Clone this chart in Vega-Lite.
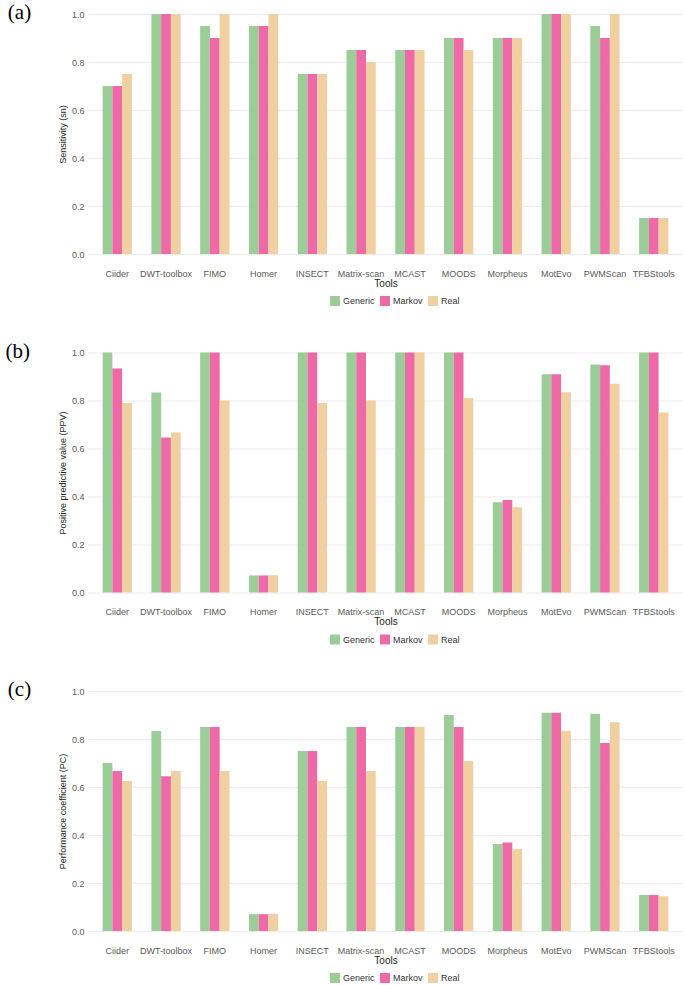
{
  "$schema": "https://vega.github.io/schema/vega-lite/v6.json",
  "description": "Sensitivity, PPV and performance coefficient of motif scanning tools",
  "padding": {"left": 5, "top": 2, "right": 0, "bottom": 0},
  "spacing": 34.5,
  "data": {
    "values": [
      {"m": "sn", "tool": "Ciider", "type": "Generic", "v": 0.70},
      {"m": "sn", "tool": "Ciider", "type": "Markov", "v": 0.70},
      {"m": "sn", "tool": "Ciider", "type": "Real", "v": 0.75},
      {"m": "sn", "tool": "DWT-toolbox", "type": "Generic", "v": 1.00},
      {"m": "sn", "tool": "DWT-toolbox", "type": "Markov", "v": 1.00},
      {"m": "sn", "tool": "DWT-toolbox", "type": "Real", "v": 1.00},
      {"m": "sn", "tool": "FIMO", "type": "Generic", "v": 0.95},
      {"m": "sn", "tool": "FIMO", "type": "Markov", "v": 0.90},
      {"m": "sn", "tool": "FIMO", "type": "Real", "v": 1.00},
      {"m": "sn", "tool": "Homer", "type": "Generic", "v": 0.95},
      {"m": "sn", "tool": "Homer", "type": "Markov", "v": 0.95},
      {"m": "sn", "tool": "Homer", "type": "Real", "v": 1.00},
      {"m": "sn", "tool": "INSECT", "type": "Generic", "v": 0.75},
      {"m": "sn", "tool": "INSECT", "type": "Markov", "v": 0.75},
      {"m": "sn", "tool": "INSECT", "type": "Real", "v": 0.75},
      {"m": "sn", "tool": "Matrix-scan", "type": "Generic", "v": 0.85},
      {"m": "sn", "tool": "Matrix-scan", "type": "Markov", "v": 0.85},
      {"m": "sn", "tool": "Matrix-scan", "type": "Real", "v": 0.80},
      {"m": "sn", "tool": "MCAST", "type": "Generic", "v": 0.85},
      {"m": "sn", "tool": "MCAST", "type": "Markov", "v": 0.85},
      {"m": "sn", "tool": "MCAST", "type": "Real", "v": 0.85},
      {"m": "sn", "tool": "MOODS", "type": "Generic", "v": 0.90},
      {"m": "sn", "tool": "MOODS", "type": "Markov", "v": 0.90},
      {"m": "sn", "tool": "MOODS", "type": "Real", "v": 0.85},
      {"m": "sn", "tool": "Morpheus", "type": "Generic", "v": 0.90},
      {"m": "sn", "tool": "Morpheus", "type": "Markov", "v": 0.90},
      {"m": "sn", "tool": "Morpheus", "type": "Real", "v": 0.90},
      {"m": "sn", "tool": "MotEvo", "type": "Generic", "v": 1.00},
      {"m": "sn", "tool": "MotEvo", "type": "Markov", "v": 1.00},
      {"m": "sn", "tool": "MotEvo", "type": "Real", "v": 1.00},
      {"m": "sn", "tool": "PWMScan", "type": "Generic", "v": 0.95},
      {"m": "sn", "tool": "PWMScan", "type": "Markov", "v": 0.90},
      {"m": "sn", "tool": "PWMScan", "type": "Real", "v": 1.00},
      {"m": "sn", "tool": "TFBStools", "type": "Generic", "v": 0.15},
      {"m": "sn", "tool": "TFBStools", "type": "Markov", "v": 0.15},
      {"m": "sn", "tool": "TFBStools", "type": "Real", "v": 0.15},

      {"m": "ppv", "tool": "Ciider", "type": "Generic", "v": 1.00},
      {"m": "ppv", "tool": "Ciider", "type": "Markov", "v": 0.933},
      {"m": "ppv", "tool": "Ciider", "type": "Real", "v": 0.79},
      {"m": "ppv", "tool": "DWT-toolbox", "type": "Generic", "v": 0.833},
      {"m": "ppv", "tool": "DWT-toolbox", "type": "Markov", "v": 0.646},
      {"m": "ppv", "tool": "DWT-toolbox", "type": "Real", "v": 0.667},
      {"m": "ppv", "tool": "FIMO", "type": "Generic", "v": 1.00},
      {"m": "ppv", "tool": "FIMO", "type": "Markov", "v": 1.00},
      {"m": "ppv", "tool": "FIMO", "type": "Real", "v": 0.80},
      {"m": "ppv", "tool": "Homer", "type": "Generic", "v": 0.071},
      {"m": "ppv", "tool": "Homer", "type": "Markov", "v": 0.071},
      {"m": "ppv", "tool": "Homer", "type": "Real", "v": 0.072},
      {"m": "ppv", "tool": "INSECT", "type": "Generic", "v": 1.00},
      {"m": "ppv", "tool": "INSECT", "type": "Markov", "v": 1.00},
      {"m": "ppv", "tool": "INSECT", "type": "Real", "v": 0.79},
      {"m": "ppv", "tool": "Matrix-scan", "type": "Generic", "v": 1.00},
      {"m": "ppv", "tool": "Matrix-scan", "type": "Markov", "v": 1.00},
      {"m": "ppv", "tool": "Matrix-scan", "type": "Real", "v": 0.80},
      {"m": "ppv", "tool": "MCAST", "type": "Generic", "v": 1.00},
      {"m": "ppv", "tool": "MCAST", "type": "Markov", "v": 1.00},
      {"m": "ppv", "tool": "MCAST", "type": "Real", "v": 1.00},
      {"m": "ppv", "tool": "MOODS", "type": "Generic", "v": 1.00},
      {"m": "ppv", "tool": "MOODS", "type": "Markov", "v": 1.00},
      {"m": "ppv", "tool": "MOODS", "type": "Real", "v": 0.81},
      {"m": "ppv", "tool": "Morpheus", "type": "Generic", "v": 0.376},
      {"m": "ppv", "tool": "Morpheus", "type": "Markov", "v": 0.385},
      {"m": "ppv", "tool": "Morpheus", "type": "Real", "v": 0.355},
      {"m": "ppv", "tool": "MotEvo", "type": "Generic", "v": 0.909},
      {"m": "ppv", "tool": "MotEvo", "type": "Markov", "v": 0.909},
      {"m": "ppv", "tool": "MotEvo", "type": "Real", "v": 0.834},
      {"m": "ppv", "tool": "PWMScan", "type": "Generic", "v": 0.950},
      {"m": "ppv", "tool": "PWMScan", "type": "Markov", "v": 0.947},
      {"m": "ppv", "tool": "PWMScan", "type": "Real", "v": 0.870},
      {"m": "ppv", "tool": "TFBStools", "type": "Generic", "v": 1.00},
      {"m": "ppv", "tool": "TFBStools", "type": "Markov", "v": 1.00},
      {"m": "ppv", "tool": "TFBStools", "type": "Real", "v": 0.75},

      {"m": "pc", "tool": "Ciider", "type": "Generic", "v": 0.70},
      {"m": "pc", "tool": "Ciider", "type": "Markov", "v": 0.667},
      {"m": "pc", "tool": "Ciider", "type": "Real", "v": 0.625},
      {"m": "pc", "tool": "DWT-toolbox", "type": "Generic", "v": 0.833},
      {"m": "pc", "tool": "DWT-toolbox", "type": "Markov", "v": 0.645},
      {"m": "pc", "tool": "DWT-toolbox", "type": "Real", "v": 0.667},
      {"m": "pc", "tool": "FIMO", "type": "Generic", "v": 0.85},
      {"m": "pc", "tool": "FIMO", "type": "Markov", "v": 0.85},
      {"m": "pc", "tool": "FIMO", "type": "Real", "v": 0.667},
      {"m": "pc", "tool": "Homer", "type": "Generic", "v": 0.070},
      {"m": "pc", "tool": "Homer", "type": "Markov", "v": 0.070},
      {"m": "pc", "tool": "Homer", "type": "Real", "v": 0.071},
      {"m": "pc", "tool": "INSECT", "type": "Generic", "v": 0.75},
      {"m": "pc", "tool": "INSECT", "type": "Markov", "v": 0.75},
      {"m": "pc", "tool": "INSECT", "type": "Real", "v": 0.625},
      {"m": "pc", "tool": "Matrix-scan", "type": "Generic", "v": 0.85},
      {"m": "pc", "tool": "Matrix-scan", "type": "Markov", "v": 0.85},
      {"m": "pc", "tool": "Matrix-scan", "type": "Real", "v": 0.667},
      {"m": "pc", "tool": "MCAST", "type": "Generic", "v": 0.85},
      {"m": "pc", "tool": "MCAST", "type": "Markov", "v": 0.85},
      {"m": "pc", "tool": "MCAST", "type": "Real", "v": 0.85},
      {"m": "pc", "tool": "MOODS", "type": "Generic", "v": 0.90},
      {"m": "pc", "tool": "MOODS", "type": "Markov", "v": 0.85},
      {"m": "pc", "tool": "MOODS", "type": "Real", "v": 0.708},
      {"m": "pc", "tool": "Morpheus", "type": "Generic", "v": 0.362},
      {"m": "pc", "tool": "Morpheus", "type": "Markov", "v": 0.369},
      {"m": "pc", "tool": "Morpheus", "type": "Real", "v": 0.341},
      {"m": "pc", "tool": "MotEvo", "type": "Generic", "v": 0.909},
      {"m": "pc", "tool": "MotEvo", "type": "Markov", "v": 0.909},
      {"m": "pc", "tool": "MotEvo", "type": "Real", "v": 0.834},
      {"m": "pc", "tool": "PWMScan", "type": "Generic", "v": 0.905},
      {"m": "pc", "tool": "PWMScan", "type": "Markov", "v": 0.783},
      {"m": "pc", "tool": "PWMScan", "type": "Real", "v": 0.870},
      {"m": "pc", "tool": "TFBStools", "type": "Generic", "v": 0.15},
      {"m": "pc", "tool": "TFBStools", "type": "Markov", "v": 0.15},
      {"m": "pc", "tool": "TFBStools", "type": "Real", "v": 0.145}
    ]
  },
  "vconcat": [
    {
      "width": 595,
      "height": 264,
      "title": {"text": "(a)", "orient": "left", "anchor": "end", "angle": 0, "offset": 4},
      "transform": [{"filter": "datum.m == 'sn'"}],
      "mark": {"type": "bar"},
      "encoding": {
        "x": {"field": "tool", "type": "nominal", "title": "Tools",
              "sort": ["Ciider", "DWT-toolbox", "FIMO", "Homer", "INSECT", "Matrix-scan", "MCAST", "MOODS", "Morpheus", "MotEvo", "PWMScan", "TFBStools"],
              "scale": {"paddingInner": 0, "paddingOuter": 0.1}},
        "xOffset": {"field": "type", "scale": {"paddingInner": 0, "paddingOuter": 1.5}},
        "y": {"field": "v", "type": "quantitative", "title": "Sensitivity (sn)", "stack": null,
              "scale": {"domain": [-0.05, 1.05], "nice": false}},
        "y2": {"datum": 0},
        "color": {"field": "type", "type": "nominal",
                  "scale": {"domain": ["Generic", "Markov", "Real"], "range": ["#9CCC98", "#EE6AA7", "#F0CFA0"]},
                  "legend": {"orient": "none", "legendX": 242, "legendY": 294}}
      }
    },
    {
      "width": 595,
      "height": 264,
      "title": {"text": "(b)", "orient": "left", "anchor": "end", "angle": 0, "offset": 4},
      "transform": [{"filter": "datum.m == 'ppv'"}],
      "mark": {"type": "bar"},
      "encoding": {
        "x": {"field": "tool", "type": "nominal", "title": "Tools",
              "sort": ["Ciider", "DWT-toolbox", "FIMO", "Homer", "INSECT", "Matrix-scan", "MCAST", "MOODS", "Morpheus", "MotEvo", "PWMScan", "TFBStools"],
              "scale": {"paddingInner": 0, "paddingOuter": 0.1}},
        "xOffset": {"field": "type", "scale": {"paddingInner": 0, "paddingOuter": 1.5}},
        "y": {"field": "v", "type": "quantitative", "title": "Positive predictive value (PPV)", "stack": null,
              "scale": {"domain": [-0.05, 1.05], "nice": false}},
        "y2": {"datum": 0},
        "color": {"field": "type", "type": "nominal",
                  "scale": {"domain": ["Generic", "Markov", "Real"], "range": ["#9CCC98", "#EE6AA7", "#F0CFA0"]},
                  "legend": {"orient": "none", "legendX": 242, "legendY": 294}}
      }
    },
    {
      "width": 595,
      "height": 264,
      "title": {"text": "(c)", "orient": "left", "anchor": "end", "angle": 0, "offset": 4},
      "transform": [{"filter": "datum.m == 'pc'"}],
      "mark": {"type": "bar"},
      "encoding": {
        "x": {"field": "tool", "type": "nominal", "title": "Tools",
              "sort": ["Ciider", "DWT-toolbox", "FIMO", "Homer", "INSECT", "Matrix-scan", "MCAST", "MOODS", "Morpheus", "MotEvo", "PWMScan", "TFBStools"],
              "scale": {"paddingInner": 0, "paddingOuter": 0.1}},
        "xOffset": {"field": "type", "scale": {"paddingInner": 0, "paddingOuter": 1.5}},
        "y": {"field": "v", "type": "quantitative", "title": "Performance coefficient (PC)", "stack": null,
              "scale": {"domain": [-0.05, 1.05], "nice": false}},
        "y2": {"datum": 0},
        "color": {"field": "type", "type": "nominal",
                  "scale": {"domain": ["Generic", "Markov", "Real"], "range": ["#9CCC98", "#EE6AA7", "#F0CFA0"]},
                  "legend": {"orient": "none", "legendX": 242, "legendY": 294}}
      }
    }
  ],
  "resolve": {"legend": {"color": "independent"}, "scale": {"x": "independent", "y": "independent", "color": "independent"}},
  "config": {
    "font": "Liberation Sans",
    "view": {"stroke": null},
    "title": {"font": "Liberation Serif", "fontSize": 21, "fontWeight": "normal", "color": "#000000"},
    "axis": {
      "domain": false,
      "ticks": false,
      "labelFont": "Liberation Sans",
      "titleFont": "Liberation Sans",
      "labelFontSize": 9,
      "titleFontSize": 9,
      "labelColor": "#5A5A5A",
      "titleColor": "#222222",
      "titleFontWeight": "normal",
      "gridColor": "#EBEBEB"
    },
    "axisX": {"labelAngle": 0, "labelPadding": 3, "titlePadding": 0, "titleFontSize": 10, "bandPosition": 0.5},
    "axisY": {
      "values": [0, 0.1, 0.2, 0.3, 0.4, 0.5, 0.6, 0.7, 0.8, 0.9, 1.0],
      "labelExpr": "round(datum.value * 10) % 2 == 0 ? format(datum.value, '.1f') : ''",
      "gridColor": {"condition": {"test": "round(datum.value * 10) % 2 == 1", "value": "#F4F4F4"}, "value": "#EBEBEB"},
      "labelPadding": 4,
      "titlePadding": 4
    },
    "legend": {
      "direction": "horizontal",
      "title": null,
      "symbolType": "square",
      "symbolSize": 100,
      "symbolStrokeWidth": 0,
      "symbolOpacity": 1,
      "labelFontSize": 9,
      "labelFont": "Liberation Sans",
      "labelColor": "#333333",
      "labelOffset": 3,
      "columnPadding": 5
    }
  }
}
